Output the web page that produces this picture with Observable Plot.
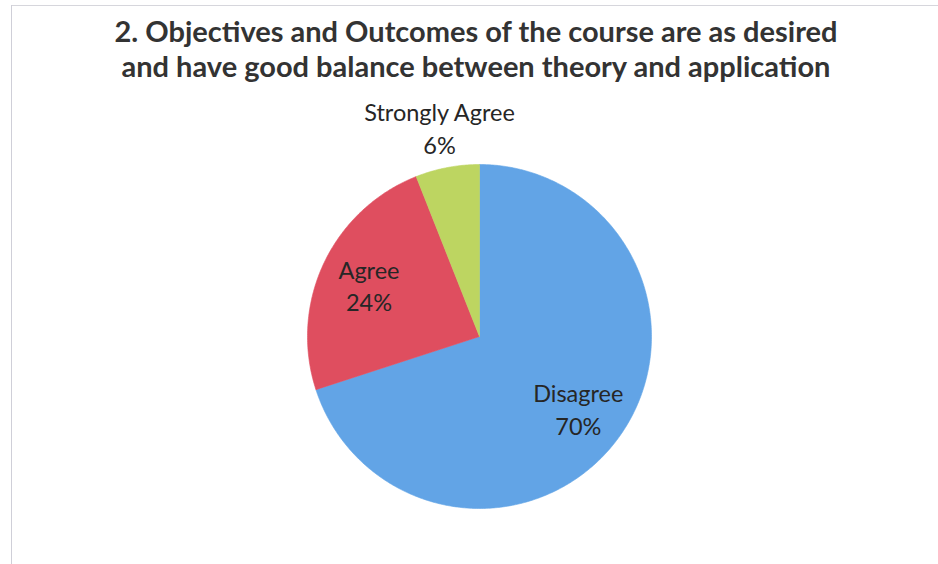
<!DOCTYPE html>
<html>
<head>
<meta charset="utf-8">
<script src="https://cdn.jsdelivr.net/npm/d3@7"></script>
<script src="https://cdn.jsdelivr.net/npm/@observablehq/plot@0.6"></script>
<style>
  html, body { margin: 0; padding: 0; background: #fff; }
  #frame { position: relative; width: 938px; height: 564px; overflow: hidden; background: #fff; }
  #frame .bt { position: absolute; left: 11px; top: 5px; width: 927px; height: 1px; background: #d6d6dc; }
  #frame .bl { position: absolute; left: 11px; top: 5px; width: 1px; height: 559px; background: #cfcfd8; }
  #title { height: 95px; box-sizing: border-box; padding-top: 13px; padding-left: 14px;
           font-family: Lato, "Open Sans", sans-serif; font-weight: 700; font-size: 29px;
           line-height: 35px; text-align: center; color: #333; }
  #chart svg { display: block; }
</style>
</head>
<body>
<div id="frame">
  <div class="bt"></div><div class="bl"></div>
  <div id="title">2. Objectives and Outcomes of the course are as desired<br>and have good balance between theory and application</div>
  <div id="chart"></div>
</div>
<script>
// ---- data ----
const categories = ["Disagree", "Agree", "Strongly Agree"];
const shares = [70, 24, 6];
const labels = ["Disagree\n70%", "Agree\n24%", "Strongly Agree\n6%"];
const colors = ["#62A4E6", "#DF4E5F", "#BDD561"];

// ---- build slices ----
const pie = d3.pie().sort(null).value(d => d)(shares);
const slices = pie.map((p, i) => {
  const pts = [{x: 0, y: 0}];
  const n = Math.max(8, Math.ceil((p.endAngle - p.startAngle) / 0.01));
  for (let k = 0; k <= n; k++) {
    const a = p.startAngle + (p.endAngle - p.startAngle) * k / n;
    pts.push({x: Math.sin(a), y: Math.cos(a)});
  }
  pts.push({x: 0, y: 0});
  return {name: categories[i], color: colors[i], pts};
});
const labelData = pie.map((p, i) => {
  const mid = (p.startAngle + p.endAngle) / 2;
  const r = shares[i] < 10 ? 1.24 : 0.71;
  return {text: labels[i], x: Math.sin(mid) * r, y: Math.cos(mid) * r};
});

const cx = 479, cy = 241, R = 172;
const chart = Plot.plot({
  width: 938,
  height: 469,
  margin: 0,
  x: {domain: [-1, 1], range: [cx - R, cx + R], axis: null},
  y: {domain: [-1, 1], range: [cy + R, cy - R], axis: null},
  style: {background: "transparent"},
  marks: [
    ...slices.map(s => Plot.line(s.pts, {x: "x", y: "y", fill: s.color, stroke: s.color, strokeWidth: 0.6, curve: "linear"})),
    Plot.text(labelData, {x: "x", y: "y", text: "text", fontSize: 23.5, lineHeight: 1.4,
      fill: "#262626", fontFamily: "Lato, 'Open Sans', sans-serif"})
  ]
});
document.getElementById("chart").appendChild(chart);
</script>
</body>
</html>
